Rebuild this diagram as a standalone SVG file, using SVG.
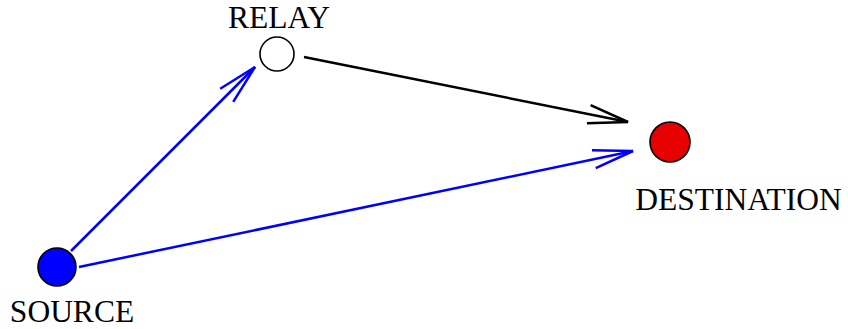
<svg xmlns="http://www.w3.org/2000/svg" width="848" height="329" viewBox="0 0 848 329">
<style>
.lbl{font-family:"Liberation Serif","Times New Roman",serif;font-size:31.5px;fill:#000;text-anchor:middle}
.node{stroke:#000;stroke-width:1.6}
.edge{fill:none;stroke-width:2.5}
</style>
<defs>
<marker id="ab" markerUnits="userSpaceOnUse" markerWidth="50" markerHeight="30" refX="0" refY="0" viewBox="-45 -15 50 30" orient="auto" overflow="visible">
<path d="M-40,-9.2 L0,0 L-40,9.2" fill="none" stroke="#0000ff" stroke-width="2.5"/>
</marker>
<marker id="ak" markerUnits="userSpaceOnUse" markerWidth="50" markerHeight="30" refX="0" refY="0" viewBox="-45 -15 50 30" orient="auto" overflow="visible">
<path d="M-40,-9.2 L0,0 L-40,9.2" fill="none" stroke="#000" stroke-width="2.5"/>
</marker>
</defs>
<rect width="848" height="329" fill="#fff"/>
<g id="connectors">
<line class="edge" x1="71" y1="251" x2="255" y2="67" stroke="#0000ff" marker-end="url(#ab)"/>
<line class="edge" x1="79" y1="267" x2="633" y2="151" stroke="#0000ff" marker-end="url(#ab)"/>
<line class="edge" x1="304" y1="57" x2="628" y2="122" stroke="#000" marker-end="url(#ak)"/>
</g>
<g id="relay">
<circle class="node" cx="277" cy="54" r="17" fill="#fff"/>
<text class="lbl" x="279" y="28">RELAY</text>
</g>
<g id="destination">
<circle class="node" cx="670" cy="142" r="20" fill="#e60000"/>
<text class="lbl" x="738.5" y="210">DESTINATION</text>
</g>
<g id="source">
<circle class="node" cx="57" cy="267" r="19" fill="#0000ff"/>
<text class="lbl" x="72" y="322">SOURCE</text>
</g>
</svg>
